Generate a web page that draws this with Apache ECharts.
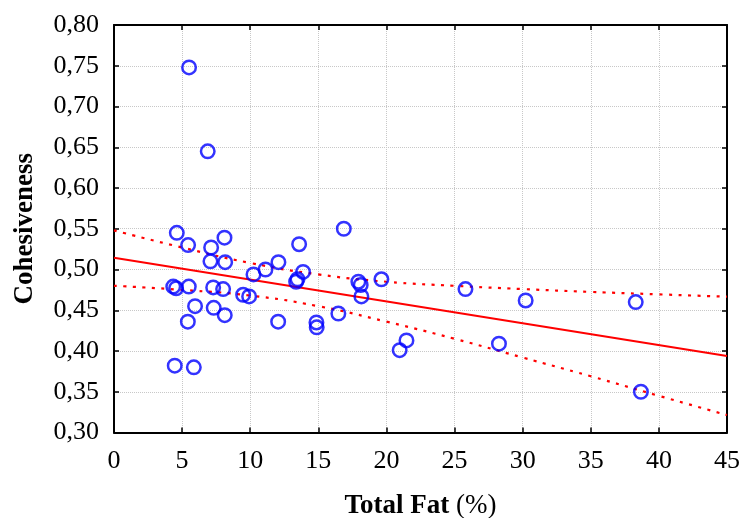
<!DOCTYPE html>
<html>
<head>
<meta charset="utf-8">
<script src="https://cdn.jsdelivr.net/npm/echarts@6/dist/echarts.min.js"></script>
<style>html,body{margin:0;padding:0;background:#fff;}#chart{width:742px;height:518px;}</style>
</head>
<body>
<div id="chart"></div>
<script>
var totalFat = [5.51, 6.88, 4.61, 5.44, 7.13, 8.11, 7.08, 8.16, 10.24, 11.12, 12.07, 13.59, 13.37, 13.47, 13.88, 16.87,
  4.35, 4.56, 5.49, 7.28, 8.01, 9.48, 9.92, 5.95, 7.32, 8.13, 5.42, 12.05, 14.86, 14.88, 16.47, 4.46, 5.86,
  17.94, 18.11, 18.16, 19.63, 20.97, 21.47, 25.80, 28.26, 30.22, 38.30, 38.68];
var cohesiveness = [0.748, 0.645, 0.545, 0.530, 0.527, 0.539, 0.510, 0.509, 0.494, 0.500, 0.509, 0.531, 0.485, 0.488, 0.497, 0.550,
  0.479, 0.477, 0.479, 0.478, 0.476, 0.469, 0.467, 0.455, 0.453, 0.444, 0.436, 0.436, 0.435, 0.429, 0.446, 0.382, 0.380,
  0.485, 0.481, 0.467, 0.488, 0.401, 0.413, 0.476, 0.409, 0.462, 0.460, 0.350];
var lineX = [0, 45];
var fitLine = [0.5143, 0.3940];
var bandX = [0, 5, 10, 15, 20, 25, 30, 35, 40, 45];
var upperBand = [0.548, 0.527, 0.508, 0.494, 0.485, 0.480, 0.476, 0.4725, 0.4695, 0.4666];
var lowerBand = [0.480, 0.475, 0.468, 0.455, 0.436, 0.415, 0.392, 0.369, 0.345, 0.3214];

function pairs(xs, ys) { return xs.map(function (x, i) { return [x, ys[i]]; }); }

var chart = echarts.init(document.getElementById('chart'));
var font = '"Liberation Serif", "Times New Roman", Times, serif';
var axisCommon = {
  axisLine: { show: true, onZero: false, lineStyle: { color: '#000', width: 2 } },
  axisTick: { show: true, inside: true, length: 5, lineStyle: { color: '#000', width: 1.5 } }
};
chart.setOption({
  animation: false,
  backgroundColor: '#fff',
  grid: { left: 114, right: 15, top: 25, bottom: 85.5, containLabel: false, outerBoundsMode: 'none' },
  xAxis: [
    Object.assign({
      type: 'value', min: 0, max: 45, interval: 5, position: 'bottom',
      name: '{b|Total Fat}{n| (%)}', nameLocation: 'middle', nameGap: 60,
      nameTextStyle: { rich: {
        b: { fontFamily: font, fontSize: 27, fontWeight: 'bold', color: '#000' },
        n: { fontFamily: font, fontSize: 27, color: '#000' } } },
      axisLabel: { fontFamily: font, fontSize: 26, color: '#000', margin: 16 },
      splitLine: { show: true, lineStyle: { color: '#c8c8c8', type: 'dotted', width: 1 } }
    }, axisCommon),
    Object.assign({
      type: 'value', min: 0, max: 45, interval: 5, position: 'top',
      axisLabel: { show: false }, splitLine: { show: false }
    }, axisCommon)
  ],
  yAxis: [
    Object.assign({
      type: 'value', min: 0.30, max: 0.80, interval: 0.05, position: 'left',
      name: 'Cohesiveness', nameLocation: 'middle', nameGap: 75,
      nameTextStyle: { fontFamily: font, fontSize: 27, fontWeight: 'bold', color: '#000' },
      axisLabel: { fontFamily: font, fontSize: 26, color: '#000', margin: 15,
        formatter: function (v) { return v.toFixed(2).replace('.', ','); } },
      splitLine: { show: true, lineStyle: { color: '#c8c8c8', type: 'dotted', width: 1 } }
    }, axisCommon),
    Object.assign({
      type: 'value', min: 0.30, max: 0.80, interval: 0.05, position: 'right',
      axisLabel: { show: false }, splitLine: { show: false }
    }, axisCommon)
  ],
  series: [
    { type: 'line', data: pairs(bandX, upperBand), smooth: true, symbol: 'none',
      lineStyle: { color: '#ff0000', width: 2.2, type: [3, 6.5] }, z: 2 },
    { type: 'line', data: pairs(bandX, lowerBand), smooth: true, symbol: 'none',
      lineStyle: { color: '#ff0000', width: 2.2, type: [3, 6.5] }, z: 2 },
    { type: 'line', data: pairs(lineX, fitLine), symbol: 'none',
      lineStyle: { color: '#ff0000', width: 2 }, z: 2 },
    { type: 'scatter', data: pairs(totalFat, cohesiveness), symbol: 'circle', symbolSize: 13.5,
      itemStyle: { color: 'rgba(0,0,0,0)', borderColor: '#0000ff', borderWidth: 2.5 }, z: 3 }
  ]
});
</script>
</body>
</html>
